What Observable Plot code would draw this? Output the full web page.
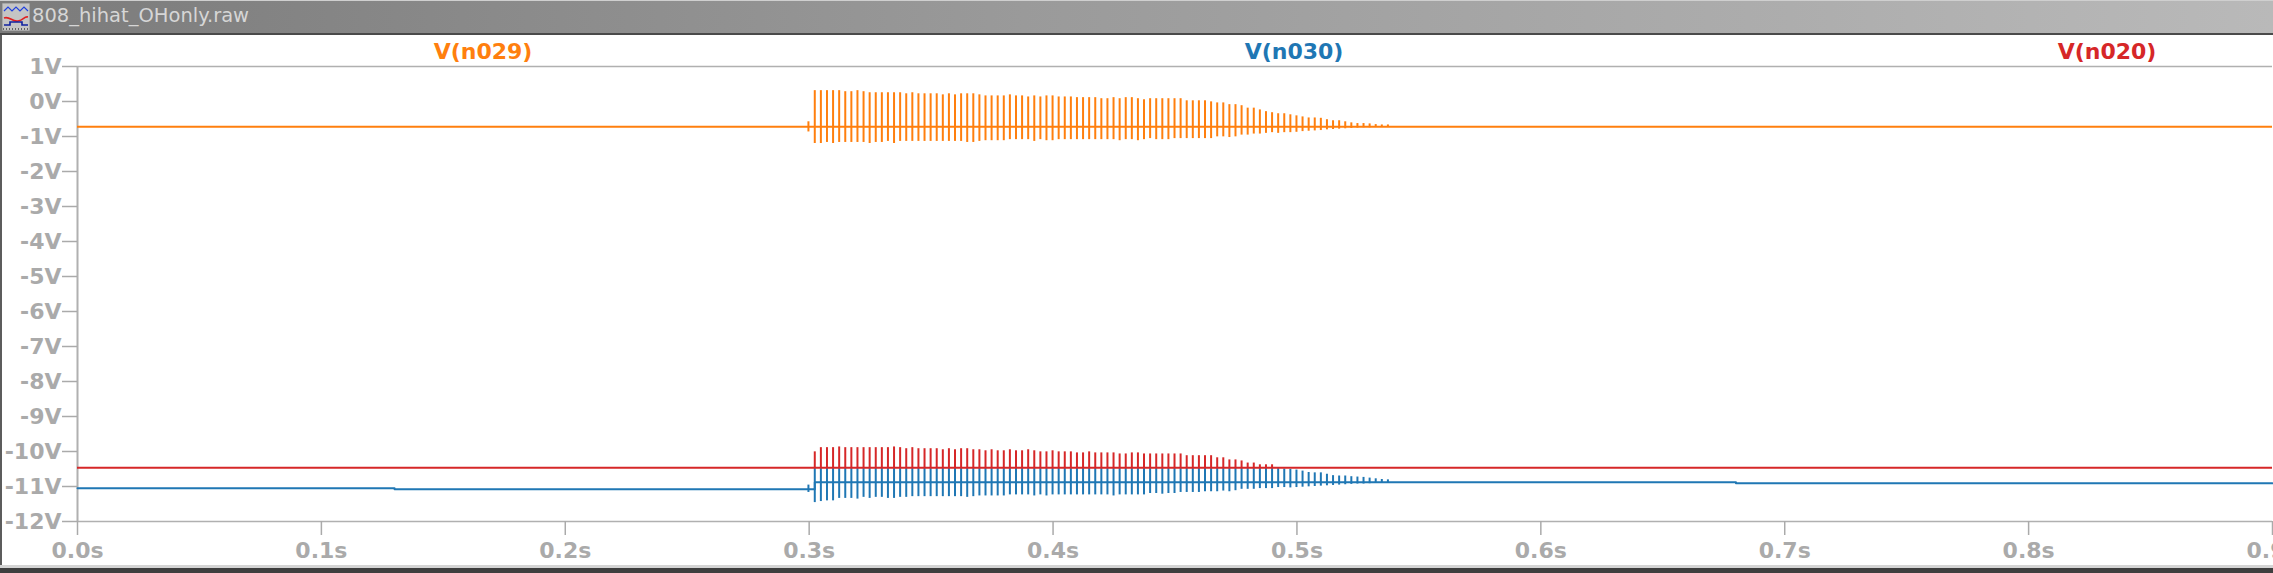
<!DOCTYPE html>
<html><head><meta charset="utf-8">
<script src="https://cdn.jsdelivr.net/npm/d3@7"></script>
<script src="https://cdn.jsdelivr.net/npm/@observablehq/plot@0.6"></script>
<style>
html,body{margin:0;padding:0;background:#fff;}
body{width:2273px;height:573px;overflow:hidden;position:relative;font-family:"DejaVu Sans",sans-serif;}
#titlebar{position:absolute;left:0;top:0;width:2273px;height:33px;background:linear-gradient(to right,#7b7b7b 0%,#9a9a9a 45%,#b9b9b9 100%);border-top:1px solid #cfcfcf;box-sizing:border-box;}
#titlebar .t{position:absolute;left:32px;top:3px;font:19.5px "DejaVu Sans";color:#d6d6d6;white-space:nowrap;}
#icon{position:absolute;left:2px;top:2px;}
#sep{position:absolute;left:0;top:33px;width:2273px;height:2px;background:#4a4a4a;}
#leftb{position:absolute;left:0;top:35px;width:2px;height:530px;background:#5c5c5c;}
#chart{position:absolute;left:0;top:35px;}
.leg{position:absolute;top:41px;transform:translateX(-50%);font:bold 22px "DejaVu Sans";line-height:22px;white-space:nowrap;}
#bot1{position:absolute;left:0;top:565px;width:2273px;height:3px;background:#d4d4d4;}
#bot2{position:absolute;left:0;top:568px;width:2273px;height:5px;background:#3e3e3e;}
</style>
</head><body>
<div id="titlebar">
  <svg id="icon" width="28" height="28" viewBox="0 0 28 28">
    <rect x="0" y="0" width="28" height="28" fill="#c4c4c4" stroke="#8a8a8a"/>
    <polyline points="2,8 6,4 10,8 14,4 18,8 22,4 26,8" fill="none" stroke="#2040e0" stroke-width="1.2"/>
    <path d="M2,15 C8,13 10,19 16,18 S22,13 26,14" fill="none" stroke="#e02020" stroke-width="1.6"/>
    <polyline points="2,22 8,22 8,19 20,19 20,22 26,22" fill="none" stroke="#1020a0" stroke-width="1.6"/>
    <line x1="1" y1="26" x2="27" y2="26" stroke="#000" stroke-dasharray="1,2"/>
  </svg>
  <span class="t">808_hihat_OHonly.raw</span>
</div>
<div id="sep"></div>
<div id="leftb"></div>
<div id="chart"></div>
<div id="legend"></div>
<div id="bot1"></div><div id="bot2"></div>
<script>
// ---- data ----
const seriesNames = ["V(n029)", "V(n030)", "V(n020)"];
const seriesColors = ["#ff7f0e", "#1f77b4", "#d62728"];
const xTicks = [0, 0.1, 0.2, 0.3, 0.4, 0.5, 0.6, 0.7, 0.8, 0.9];
const yTicks = [1, 0, -1, -2, -3, -4, -5, -6, -7, -8, -9, -10, -11, -12];

// pulse instants (s): first entry is the small pre-blip
const pulseT = [0.2997,
  0.3023,0.3048,0.3073,0.3098,0.3123,0.3148,0.3173,0.3198,0.3223,0.3248,
  0.3273,0.3298,0.3323,0.3348,0.3373,0.3398,0.3423,0.3448,0.3473,0.3498,
  0.3523,0.3548,0.3573,0.3598,0.3623,0.3648,0.3673,0.3698,0.3723,0.3748,
  0.3773,0.3798,0.3823,0.3848,0.3873,0.3898,0.3923,0.3948,0.3973,0.3998,
  0.4023,0.4048,0.4073,0.4098,0.4123,0.4148,0.4173,0.4198,0.4223,0.4248,
  0.4273,0.4298,0.4323,0.4348,0.4373,0.4398,0.4423,0.4448,0.4473,0.4498,
  0.4523,0.4548,0.4573,0.4598,0.4623,0.4648,0.4673,0.4698,0.4723,0.4748,
  0.4773,0.4798,0.4823,0.4848,0.4873,0.4898,0.4923,0.4948,0.4973,0.4998,
  0.5023,0.5048,0.5073,0.5098,0.5123,0.5148,0.5173,0.5198,0.5223,0.5248,
  0.5273,0.5298,0.5323,0.5348,0.5373];

// V(n029) orange
const n029Base = -0.72;
const n029Hi = [-0.58,
  0.31,0.31,0.31,0.31,0.31,0.28,0.28,0.31,0.28,0.25,
  0.25,0.25,0.25,0.25,0.25,0.22,0.25,0.22,0.22,0.22,
  0.22,0.19,0.22,0.19,0.22,0.22,0.22,0.19,0.16,0.16,
  0.16,0.16,0.19,0.16,0.16,0.13,0.16,0.13,0.16,0.16,
  0.13,0.13,0.13,0.11,0.11,0.11,0.11,0.08,0.08,0.11,
  0.08,0.11,0.11,0.08,0.05,0.08,0.08,0.08,0.08,0.08,
  0.08,0.02,0.02,0.02,0.02,-0.01,-0.04,-0.04,-0.09,-0.09,
  -0.12,-0.19,-0.19,-0.24,-0.29,-0.32,-0.35,-0.35,-0.38,-0.41,
  -0.44,-0.47,-0.47,-0.48,-0.52,-0.55,-0.55,-0.58,-0.61,-0.63,
  -0.63,-0.64,-0.66,-0.67,-0.67];
const n029Lo = [-0.87,
  -1.20,-1.20,-1.17,-1.20,-1.17,-1.17,-1.17,-1.17,-1.17,-1.20,
  -1.17,-1.17,-1.14,-1.20,-1.14,-1.14,-1.14,-1.14,-1.14,-1.14,
  -1.14,-1.14,-1.14,-1.14,-1.14,-1.17,-1.17,-1.14,-1.12,-1.12,
  -1.12,-1.12,-1.09,-1.09,-1.09,-1.09,-1.14,-1.09,-1.12,-1.12,
  -1.09,-1.09,-1.09,-1.09,-1.09,-1.09,-1.09,-1.09,-1.09,-1.09,
  -1.12,-1.09,-1.09,-1.12,-1.09,-1.06,-1.09,-1.09,-1.09,-1.06,
  -1.06,-1.06,-1.06,-1.06,-1.06,-1.06,-1.01,-1.01,-1.03,-1.01,
  -0.96,-0.96,-0.93,-0.93,-0.91,-0.89,-0.91,-0.89,-0.89,-0.88,
  -0.86,-0.85,-0.84,-0.83,-0.81,-0.80,-0.79,-0.78,-0.77,-0.76,
  -0.75,-0.75,-0.74,-0.73,-0.73];

// V(n030) blue: baseline steps, then spikes
const n030StepT = [0, 0.13, 0.3023, 0.68, 0.9];
const n030StepV = [-11.05, -11.08, -10.88, -10.91, -10.91];
const n030Hi = [-10.96,
  -10.48,-10.48,-10.48,-10.48,-10.48,-10.48,-10.48,-10.48,-10.48,-10.48,
  -10.48,-10.48,-10.48,-10.48,-10.48,-10.48,-10.48,-10.48,-10.48,-10.48,
  -10.48,-10.48,-10.48,-10.48,-10.48,-10.48,-10.48,-10.48,-10.48,-10.48,
  -10.48,-10.48,-10.48,-10.48,-10.48,-10.48,-10.48,-10.48,-10.48,-10.48,
  -10.48,-10.48,-10.48,-10.48,-10.48,-10.48,-10.48,-10.48,-10.48,-10.48,
  -10.48,-10.48,-10.48,-10.48,-10.48,-10.48,-10.48,-10.48,-10.48,-10.48,
  -10.48,-10.48,-10.48,-10.48,-10.48,-10.48,-10.48,-10.48,-10.48,-10.48,
  -10.48,-10.48,-10.48,-10.48,-10.48,-10.48,-10.49,-10.50,-10.51,-10.53,
  -10.56,-10.60,-10.61,-10.61,-10.65,-10.69,-10.70,-10.70,-10.72,-10.73,
  -10.74,-10.76,-10.78,-10.80,-10.81];
const n030Lo = [-11.17,
  -11.46,-11.43,-11.41,-11.41,-11.34,-11.34,-11.34,-11.36,-11.31,-11.34,
  -11.31,-11.31,-11.34,-11.34,-11.31,-11.31,-11.29,-11.29,-11.29,-11.29,
  -11.29,-11.29,-11.29,-11.29,-11.29,-11.31,-11.29,-11.27,-11.27,-11.27,
  -11.27,-11.27,-11.24,-11.24,-11.24,-11.24,-11.27,-11.24,-11.27,-11.24,
  -11.24,-11.24,-11.24,-11.24,-11.24,-11.24,-11.24,-11.24,-11.24,-11.27,
  -11.24,-11.24,-11.24,-11.24,-11.24,-11.20,-11.20,-11.22,-11.20,-11.20,
  -11.17,-11.17,-11.17,-11.17,-11.15,-11.15,-11.15,-11.13,-11.15,-11.12,
  -11.08,-11.08,-11.08,-11.06,-11.06,-11.06,-11.03,-11.03,-11.04,-11.03,
  -11.02,-11.01,-11.00,-10.99,-10.98,-10.97,-10.96,-10.95,-10.94,-10.93,
  -10.93,-10.92,-10.91,-10.90,-10.90];

// V(n020) red: spikes go upward only (null = no spike)
const n020Base = -10.465;
const n020Hi = [null,
  -10.01,-9.89,-9.89,-9.89,-9.87,-9.89,-9.89,-9.89,-9.89,-9.89,
  -9.89,-9.89,-9.89,-9.87,-9.89,-9.92,-9.89,-9.92,-9.92,-9.92,
  -9.92,-9.95,-9.92,-9.95,-9.92,-9.92,-9.95,-9.95,-9.98,-9.95,
  -9.98,-9.98,-9.95,-9.98,-9.98,-9.95,-9.98,-10.01,-10.01,-9.98,
  -10.01,-10.01,-10.01,-10.04,-10.04,-10.01,-10.04,-10.04,-10.04,-10.04,
  -10.07,-10.07,-10.04,-10.04,-10.07,-10.07,-10.07,-10.07,-10.07,-10.07,
  -10.07,-10.12,-10.12,-10.12,-10.12,-10.12,-10.18,-10.18,-10.24,-10.24,
  -10.27,-10.33,-10.33,-10.38,-10.38,-10.38];

// ---- tables built from the arrays ----
const spikes029 = pulseT.map((t, i) => ({t, lo: n029Lo[i], hi: n029Hi[i]}));
const spikes030 = pulseT.map((t, i) => ({t, lo: n030Lo[i], hi: n030Hi[i]}));
const spikes020 = pulseT.slice(0, n020Hi.length).map((t, i) => ({t, hi: n020Hi[i]})).filter(d => d.hi != null);
const steps030 = n030StepT.map((t, i) => ({t, v: n030StepV[i]}));

const grey = "#aaaaaa";
const lineGrey = "#b0b0b0";

const chart = Plot.plot({
  width: 2273, height: 530,
  marginTop: 31, marginBottom: 44, marginLeft: 77, marginRight: 1,
  x: {domain: [0, 0.9], label: null},
  y: {domain: [-12, 1], label: null},
  style: {fontFamily: "DejaVu Sans", fontWeight: "bold", fontSize: "22px", background: "transparent", overflow: "visible"},
  marks: [
    Plot.ruleY([1, -12], {stroke: lineGrey, strokeWidth: 1.5}),
    Plot.ruleX([0], {y1: 1, y2: -12, stroke: lineGrey, strokeWidth: 2}),
    Plot.axisY({ticks: yTicks, tickFormat: d => d + "V", tickSize: 15, tickPadding: 1, color: grey, fontSize: 22, fontWeight: "bold", strokeWidth: 1.5, label: null}),
    Plot.axisX({ticks: xTicks, tickFormat: d => d.toFixed(1) + "s", tickSize: 14, tickPadding: 7, color: grey, fontSize: 22, fontWeight: "bold", strokeWidth: 1.5, label: null}),
    // V(n029)
    Plot.ruleY([n029Base], {stroke: seriesColors[0], strokeWidth: 2}),
    Plot.ruleX(spikes029, {x: "t", y1: "lo", y2: "hi", stroke: seriesColors[0], strokeWidth: 2}),
    // V(n030)
    Plot.line(steps030, {x: "t", y: "v", curve: "step-after", stroke: seriesColors[1], strokeWidth: 2}),
    Plot.ruleX(spikes030, {x: "t", y1: "lo", y2: "hi", stroke: seriesColors[1], strokeWidth: 2}),
    // V(n020)
    Plot.ruleY([n020Base], {stroke: seriesColors[2], strokeWidth: 2}),
    Plot.ruleX(spikes020, {x: "t", y1: n020Base, y2: "hi", stroke: seriesColors[2], strokeWidth: 2})
  ]
});
document.getElementById("chart").appendChild(chart);

// legend labels across the top
const legendX = [483, 1294, 2107];
const leg = document.getElementById("legend");
seriesNames.forEach((n, i) => {
  const s = document.createElement("span");
  s.className = "leg";
  s.textContent = n;
  s.style.left = legendX[i] + "px";
  s.style.color = seriesColors[i];
  leg.appendChild(s);
});
</script>
</body></html>
